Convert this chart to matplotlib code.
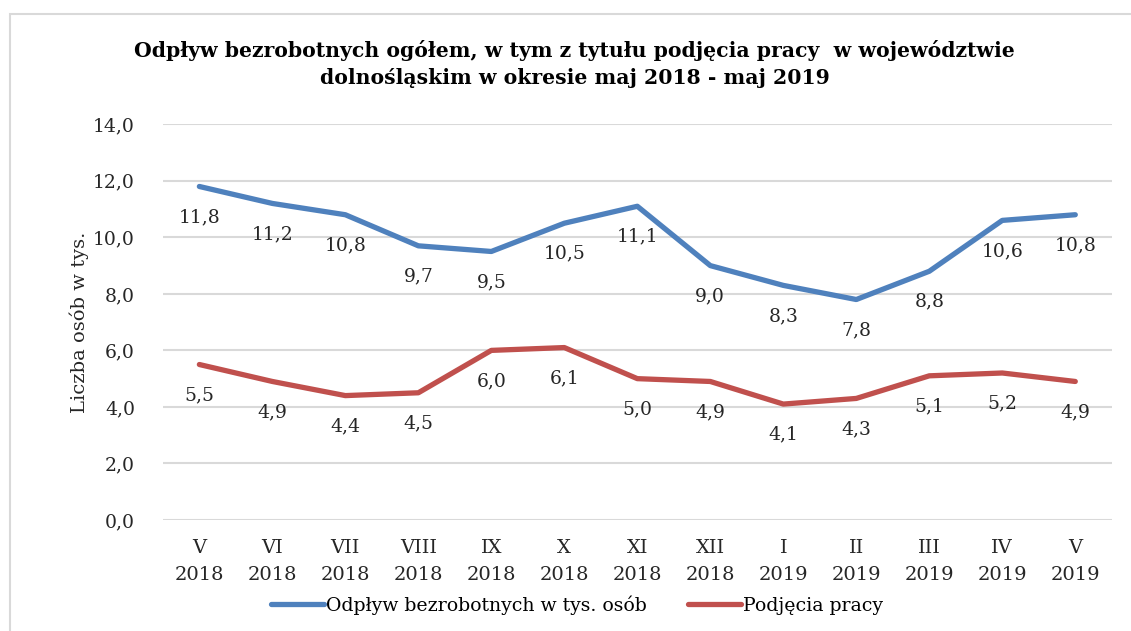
import matplotlib.pyplot as plt
from matplotlib.patches import Rectangle

# dane z wykresu
miesiace = ["V\n2018", "VI\n2018", "VII\n2018", "VIII\n2018", "IX\n2018", "X\n2018", "XI\n2018",
            "XII\n2018", "I\n2019", "II\n2019", "III\n2019", "IV\n2019", "V\n2019"]
odplyw = [11.8, 11.2, 10.8, 9.7, 9.5, 10.5, 11.1, 9.0, 8.3, 7.8, 8.8, 10.6, 10.8]
podjecia = [5.5, 4.9, 4.4, 4.5, 6.0, 6.1, 5.0, 4.9, 4.1, 4.3, 5.1, 5.2, 4.9]

NIEBIESKI = "#4F81BD"
CZERWONY = "#C0504D"
TEKST = "#262626"

# DejaVu Serif jest najblizej Cambrii z oryginalu
plt.rcParams['font.family'] = ['DejaVu Serif', 'Liberation Serif']

fig = plt.figure(figsize=(11.31, 6.31), dpi=100)
ax = fig.add_axes([0.144, 0.176, 0.839, 0.627])

# ramka wokol wykresu
fig.patches.append(Rectangle((10 / 1131, -0.05), 1.1, 1 - 14 / 631 + 0.05, transform=fig.transFigure,
                             fill=False, edgecolor="#D9D9D9", linewidth=1.5))

x = list(range(len(miesiace)))
ax.plot(x, odplyw, color=NIEBIESKI, linewidth=3.8, solid_joinstyle='round', solid_capstyle='round',
        label="Odpływ bezrobotnych w tys. osób", zorder=3)
ax.plot(x, podjecia, color=CZERWONY, linewidth=3.8, solid_joinstyle='round', solid_capstyle='round',
        label="Podjęcia pracy", zorder=3)

for seria in (odplyw, podjecia):
    for xi, v in zip(x, seria):
        ax.annotate(f"{v:.1f}".replace(".", ","), (xi, v), xytext=(0, -22), textcoords="offset points",
                    ha="center", va="center", fontsize=13.5, color=TEKST)

yt = [0, 2, 4, 6, 8, 10, 12, 14]
ax.set_xlim(-0.5, len(miesiace) - 0.5)
ax.set_ylim(0, 14)
ax.set_yticks(yt)
ax.set_yticklabels([f"{t:.1f}".replace(".", ",") for t in yt])
ax.set_xticks(x)
ax.set_xticklabels(miesiace, linespacing=1.65)
ax.tick_params(axis='x', length=0, labelsize=14, labelcolor=TEKST, pad=14)
ax.tick_params(axis='y', length=0, labelsize=13.5, labelcolor=TEKST, pad=20)
ax.grid(axis='y', color="#D9D9D9", linewidth=1.5)
ax.set_axisbelow(True)
for s in ax.spines.values():
    s.set_visible(False)

ax.set_ylabel("Liczba osób w tys.", fontsize=14, color=TEKST, labelpad=3)

fig.suptitle("Odpływ bezrobotnych ogółem, w tym z tytułu podjęcia pracy  w województwie\n"
             "dolnośląskim w okresie maj 2018 - maj 2019",
             x=0.508, y=0.937, fontsize=14.7, fontweight='bold', linespacing=1.45)

fig.legend(loc="center", bbox_to_anchor=(0.510, 0.041), ncol=2, frameon=False, fontsize=13.6,
           handlelength=2.8, handletextpad=0.1, columnspacing=2.2)

fig.savefig("out.png", dpi=100)
